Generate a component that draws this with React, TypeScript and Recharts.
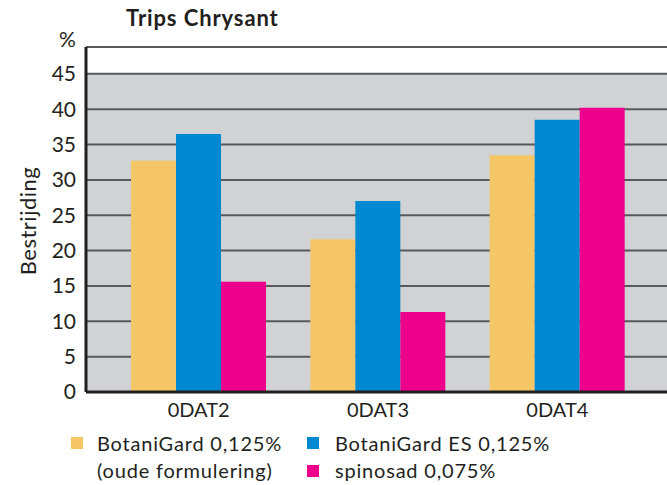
import { BarChart, Bar, XAxis, YAxis, CartesianGrid } from 'recharts';

const categories = ['0DAT2', '0DAT3', '0DAT4'];
const botaniGard = [32.7, 21.6, 33.5];
const botaniGardEs = [36.5, 27.0, 38.5];
const spinosad = [15.6, 11.3, 40.2];
const yTicks = [0, 5, 10, 15, 20, 25, 30, 35, 40, 45];

const data = categories.map((name, i) => ({
  name,
  botaniGard: botaniGard[i],
  botaniGardEs: botaniGardEs[i],
  spinosad: spinosad[i],
}));

const FONT = 'Lato, "Open Sans", sans-serif';
const INK = '#231f20';

// first stripe (above 45) stays white, the rest is grey
const stripes = ['transparent', ...yTicks.map(() => '#d1d2d4')];

const Swatch = ({ color, left, top }: { color: string; left: number; top: number }) => (
  <div style={{ position: 'absolute', left, top, width: 12, height: 12, background: color }} />
);

const Label = ({ text, left, top }: { text: string; left: number; top: number }) => (
  <div
    style={{
      position: 'absolute',
      left,
      top,
      fontSize: 20,
      lineHeight: '27px',
      letterSpacing: 0.8,
      color: INK,
      whiteSpace: 'nowrap',
    }}
  >
    {text}
  </div>
);

export default function App() {
  return (
    <div style={{ position: 'absolute', left: 0, top: 0, width: 667, height: 485, background: '#fff', fontFamily: FONT }}>
      <div
        style={{
          position: 'absolute',
          left: 126,
          top: 4,
          fontSize: 22,
          lineHeight: '27px',
          fontWeight: 700,
          letterSpacing: 0.9,
          color: INK,
        }}
      >
        Trips Chrysant
      </div>
      <div style={{ position: 'absolute', left: 59, top: 25, fontSize: 21, lineHeight: '27px', color: INK }}>%</div>
      <div
        style={{
          position: 'absolute',
          left: 27,
          top: 221,
          transform: 'translate(-50%, -50%) rotate(-90deg)',
          fontSize: 22,
          letterSpacing: 0.5,
          color: INK,
          whiteSpace: 'nowrap',
        }}
      >
        Bestrijding
      </div>

      <BarChart
        width={667}
        height={485}
        data={data}
        margin={{ top: 47, right: 0, bottom: 63, left: 0 }}
        barCategoryGap={22}
        barGap={0}
      >
        <CartesianGrid
          vertical={false}
          stroke="#58595b"
          strokeWidth={2}
          horizontalFill={stripes}
          fillOpacity={1}
        />
        <XAxis
          dataKey="name"
          height={30}
          padding={{ left: 23, right: 20 }}
          axisLine={{ stroke: INK, strokeWidth: 3 }}
          tickLine={false}
          tick={{ fill: INK, fontSize: 20, fontFamily: FONT }}
          tickMargin={5}
        />
        <YAxis
          width={86}
          domain={[0, 48.8]}
          ticks={yTicks}
          interval={0}
          axisLine={{ stroke: INK, strokeWidth: 3 }}
          tickLine={false}
          tick={{ fill: INK, fontSize: 21, fontFamily: FONT }}
          tickMargin={4}
        />
        <Bar dataKey="botaniGard" fill="#f5c665" isAnimationActive={false} />
        <Bar dataKey="botaniGardEs" fill="#0089d0" isAnimationActive={false} />
        <Bar dataKey="spinosad" fill="#ec008c" isAnimationActive={false} />
      </BarChart>

      <Swatch color="#f5c665" left={71} top={437} />
      <Label text="BotaniGard 0,125%" left={97} top={430} />
      <Label text="(oude formulering)" left={97} top={457} />
      <Swatch color="#0089d0" left={307} top={437} />
      <Label text="BotaniGard ES 0,125%" left={335} top={430} />
      <Swatch color="#ec008c" left={307} top={465} />
      <Label text="spinosad 0,075%" left={335} top={457} />
    </div>
  );
}
